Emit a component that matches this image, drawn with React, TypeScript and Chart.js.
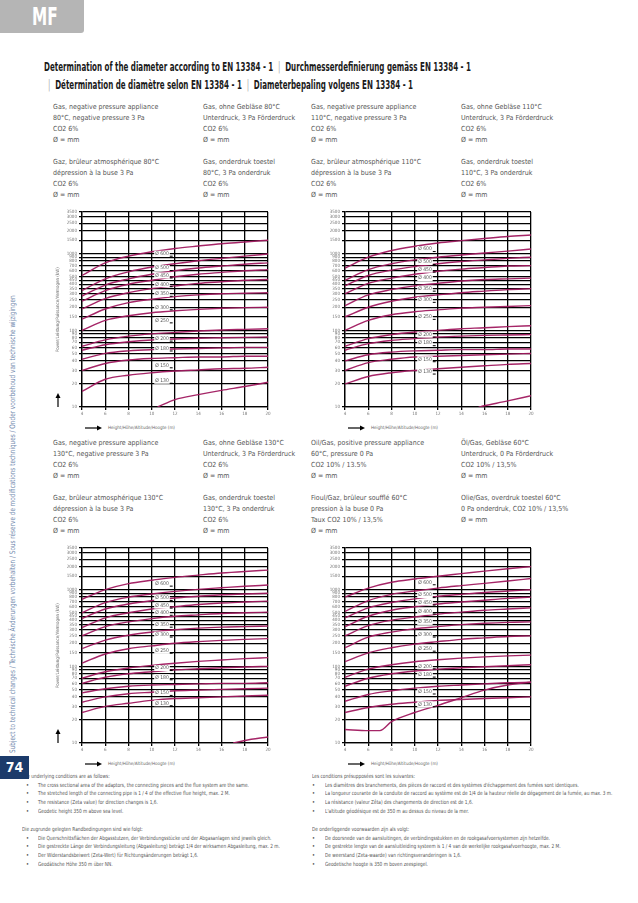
import React, { useEffect, useRef } from 'react';
import { Chart, registerables } from 'chart.js';
Chart.register(...registerables);

const NARROW = "'Liberation Sans Narrow', 'DejaVu Sans Condensed', 'Roboto', sans-serif";

// ---------- shared axis data ----------
const xTicks = [4, 6, 8, 10, 12, 14, 16, 18, 20];
const yTicks = [10, 20, 30, 40, 50, 60, 70, 80, 90, 100, 150, 200, 250, 300, 350, 400, 450, 500, 600, 700, 800, 900, 1000, 1500, 2000, 2500, 3000, 3500];
const diameterNames = ['Ø 600', 'Ø 500', 'Ø 450', 'Ø 400', 'Ø 350', 'Ø 300', 'Ø 250', 'Ø 200', 'Ø 180', 'Ø 150', 'Ø 130'];
const curveX = [4, 6, 8, 10, 12, 14, 16, 18, 20];

// ---------- chart 1: gas 80°C ----------
const chart1Series = [
  [520, 760, 930, 1060, 1170, 1260, 1350, 1420, 1500],
  [330, 470, 580, 670, 740, 810, 870, 930, 990],
  [280, 390, 470, 540, 600, 650, 690, 730, 760],
  [240, 330, 400, 450, 500, 540, 570, 600, 620],
  [190, 260, 310, 350, 380, 410, 430, 450, 460],
  [140, 190, 230, 255, 275, 290, 300, 305, 310],
  [100, 135, 155, 170, 180, 188, 194, 198, 200],
  [62, 75, 84, 90, 94, 98, 101, 103, 105],
  [55, 65, 71, 75, 77, 79, 80, 81, 82],
  [42, 50, 54, 56, 57, 58, 59, 60, 60],
  [30, 37, 41, 43, 44, 45, 45, 46, 46],
  [16, 23, 26, 28, 29.5, 30.5, 31.5, 32, 33],
];
const chart1TailX = [10.5, 12, 14, 16, 18, 20];
const chart1TailY = [10, 12.5, 14.5, 16.5, 18.5, 21];
const chart1LabelY = [1000, 650, 520, 400, 300, 200, 135, 78, 58, 35, 22];

// ---------- chart 2: gas 110°C ----------
const chart2Series = [
  [650, 900, 1100, 1250, 1380, 1480, 1580, 1680, 1750],
  [450, 620, 740, 830, 900, 960, 1020, 1080, 1150],
  [380, 520, 610, 680, 740, 790, 830, 870, 900],
  [300, 410, 480, 540, 590, 630, 660, 690, 700],
  [210, 290, 340, 380, 410, 440, 460, 470, 480],
  [150, 200, 240, 270, 290, 310, 325, 340, 350],
  [100, 135, 160, 175, 185, 195, 200, 205, 210],
  [62, 78, 88, 95, 100, 105, 108, 112, 115],
  [55, 67, 74, 78, 82, 84, 86, 87, 88],
  [40, 48, 52, 54, 55, 56, 56, 57, 57],
  [30, 38, 42, 45, 46, 47, 48, 49, 50],
  [20, 25, 28, 30, 31.5, 33, 34.5, 36, 37],
];
const chart2TailX = [15.5, 16, 18, 20];
const chart2TailY = [10, 10.4, 12, 14];
const chart2LabelY = [1150, 780, 620, 480, 350, 250, 150, 88, 68, 42, 29];

// ---------- chart 3: gas 130°C ----------
const chart3Series = [
  [750, 1000, 1200, 1330, 1450, 1550, 1650, 1730, 1800],
  [500, 680, 800, 880, 950, 1010, 1060, 1110, 1150],
  [420, 560, 650, 720, 780, 820, 860, 880, 900],
  [320, 430, 500, 560, 600, 640, 670, 690, 710],
  [250, 330, 380, 420, 450, 470, 490, 500, 510],
  [170, 220, 255, 280, 300, 315, 325, 330, 335],
  [110, 145, 170, 185, 200, 210, 218, 225, 230],
  [70, 85, 95, 103, 110, 116, 121, 126, 130],
  [60, 72, 80, 85, 90, 93, 96, 98, 100],
  [45, 51, 55, 57, 58, 59, 60, 60, 61],
  [34, 40, 44, 46, 48, 49, 50, 51, 52],
  [25, 30, 33, 36, 38, 39, 40, 41, 42],
];
const chart3TailX = [17, 18, 20];
const chart3TailY = [10, 10.8, 12];
const chart3LabelY = [1200, 780, 620, 500, 350, 260, 160, 95, 72, 45, 33];

// ---------- chart 4: oil/gas 60°C ----------
const chart4Series = [
  [800, 1050, 1250, 1380, 1500, 1620, 1750, 1880, 2000],
  [520, 720, 870, 960, 1050, 1130, 1210, 1300, 1400],
  [430, 580, 680, 760, 820, 870, 920, 960, 1000],
  [330, 450, 540, 600, 650, 690, 730, 770, 800],
  [250, 340, 400, 440, 480, 510, 540, 560, 580],
  [175, 240, 280, 310, 330, 350, 365, 375, 380],
  [115, 150, 175, 195, 210, 225, 235, 245, 250],
  [72, 92, 105, 115, 122, 128, 133, 137, 140],
  [55, 70, 80, 87, 92, 96, 99, 102, 105],
  [35, 43, 48, 52, 55, 57, 59, 61, 62],
  [25, 29, 32, 34, 36, 37, 38, 39, 40],
];
const chart4TailX = [4, 6, 7, 8, 10, 12, 14, 16, 18, 20];
const chart4TailY = [15, 14.5, 14.5, 19, 25, 31, 39, 49, 57, 62];
const chart4LabelY = [1250, 850, 680, 520, 380, 260, 170, 100, 78, 47, 32];

// ---------- texts ----------
const titleLine1a = 'Determination of the diameter according to EN 13384 - 1';
const titleLine1b = 'Durchmesserdefinierung gemäss EN 13384 - 1';
const titleLine2a = 'Détermination de diamètre selon EN 13384 - 1';
const titleLine2b = 'Diameterbepaling volgens EN 13384 - 1';

const row1Col1 = ['Gas, negative pressure appliance', '80°C, negative pressure 3 Pa', 'CO2 6%', 'Ø = mm', 'Gaz, brûleur atmosphérique 80°C', 'dépression à la buse 3 Pa', 'CO2 6%', 'Ø = mm'];
const row1Col2 = ['Gas, ohne Gebläse 80°C', 'Unterdruck, 3 Pa Förderdruck', 'CO2 6%', 'Ø = mm', 'Gas, onderdruk toestel', '80°C, 3 Pa onderdruk', 'CO2 6%', 'Ø = mm'];
const row1Col3 = ['Gas, negative pressure appliance', '110°C, negative pressure 3 Pa', 'CO2 6%', 'Ø = mm', 'Gaz, brûleur atmosphérique 110°C', 'dépression à la buse 3 Pa', 'CO2 6%', 'Ø = mm'];
const row1Col4 = ['Gas, ohne Gebläse 110°C', 'Unterdruck, 3 Pa Förderdruck', 'CO2 6%', 'Ø = mm', 'Gas, onderdruk toestel', '110°C, 3 Pa onderdruk', 'CO2 6%', 'Ø = mm'];
const row2Col1 = ['Gas, negative pressure appliance', '130°C, negative pressure 3 Pa', 'CO2 6%', 'Ø = mm', 'Gaz, brûleur atmosphérique 130°C', 'dépression à la buse 3 Pa', 'CO2 6%', 'Ø = mm'];
const row2Col2 = ['Gas, ohne Gebläse 130°C', 'Unterdruck, 3 Pa Förderdruck', 'CO2 6%', 'Ø = mm', 'Gas, onderdruk toestel', '130°C, 3 Pa onderdruk', 'CO2 6%', 'Ø = mm'];
const row2Col3 = ['Oil/Gas, positive pressure appliance', '60°C, pressure 0 Pa', 'CO2 10% / 13.5%', 'Ø = mm', 'Fioul/Gaz, brûleur soufflé 60°C', 'pression à la buse 0 Pa', 'Taux CO2 10% / 13,5%', 'Ø = mm'];
const row2Col4 = ['Öl/Gas, Gebläse 60°C', 'Unterdruck, 0 Pa Förderdruck', 'CO2 10% / 13,5%', 'Ø = mm', 'Olie/Gas, overdruk toestel 60°C', '0 Pa onderdruk, CO2 10% / 13,5%', 'Ø = mm'];

const notesEnHead = 'The underlying conditions are as follows:';
const notesEn = [
  'The cross sectional area of the adaptors, the connecting pieces and the flue system are the same.',
  'The stretched length of the connecting pipe is 1 / 4 of the effective flue height, max. 2 M.',
  'The resistance (Zeta value) for direction changes is 1,6.',
  'Geodetic height 350 m above sea level.',
];
const notesDeHead = 'Die zugrunde gelegten Randbedingungen sind wie folgt:';
const notesDe = [
  'Die Querschnittsflächen der Abgasstutzen, der Verbindungsstücke und der Abgasanlagen sind jeweils gleich.',
  'Die gestreckte Länge der Verbindungsleitung (Abgasleitung) beträgt 1/4 der wirksamen Abgasleitung, max. 2 m.',
  'Der Widerstandsbeiwert (Zeta-Wert) für Richtungsänderungen beträgt 1,6.',
  'Geodätische Höhe 350 m über NN.',
];
const notesFrHead = 'Les conditions présupposées sont les suivantes:';
const notesFr = [
  "Les diamètres des branchements, des pièces de raccord et des systèmes d'échappement des fumées sont identiques.",
  'La longueur courante de la conduite de raccord au système est de 1/4 de la hauteur réelle de dégagement de la fumée, au max. 3 m.',
  'La résistance (valeur Zêta) des changements de direction est de 1,6.',
  "L'altitude géodésique est de 350 m au dessus du niveau de la mer.",
];
const notesNlHead = 'De onderliggende voorwaarden zijn als volgt:';
const notesNl = [
  'De doorsnede van de aansluitingen, de verbindingsstukken en de rookgasafvoersystemen zijn hetzelfde.',
  'De gestrekte lengte van de aansluitleiding systeem is 1 / 4 van de werkelijke rookgasafvoerhoogte, max. 2 M.',
  'De weerstand (Zeta-waarde) van richtingsveranderingen is 1,6.',
  'Geodetische hoogte is 350 m boven zeespiegel.',
];

const sideText = 'Subject to technical changes / Technische Änderungen vorbehalten / Sous réserve de modifications techniques / Onder voorbehoud van technische wijzigingen';
const xTitle = 'Height/Höhe/Altitude/Hoogte (m)';
const yTitle = 'Power/Leistung/Puissance/Vermogen (kW)';

// ---------- plugin: diameter labels ----------
const diameterLabels = {
  id: 'diameterLabels',
  afterDatasetsDraw(chart: any, _args: any, opts: any) {
    const { ctx } = chart;
    const xs = chart.scales.x;
    const ys = chart.scales.y;
    ctx.save();
    ctx.font = `5px ${NARROW}`;
    ctx.textBaseline = 'middle';
    (opts.values || []).forEach((v: number, i: number) => {
      const text = diameterNames[i];
      const px = xs.getPixelForValue(opts.at);
      const py = ys.getPixelForValue(v);
      const w = ctx.measureText(text).width;
      ctx.fillStyle = '#fff';
      ctx.fillRect(px - 1, py - 3, w + 2, 6);
      ctx.fillStyle = '#555';
      ctx.fillText(text, px, py);
      ctx.strokeStyle = '#000';
      ctx.lineWidth = 1;
      ctx.beginPath();
      ctx.moveTo(px + w + 1, py + 2.5);
      ctx.lineTo(xs.getPixelForValue(opts.lineEnd), py + 2.5);
      ctx.stroke();
    });
    ctx.restore();
  },
};

const CURVE_COLOR = 'rgba(160, 25, 95, 0.95)';

function FlueChart(props: { left: number; top: number; series: number[][]; tailX: number[]; tailY: number[]; labelY: number[] }) {
  const ref = useRef<HTMLCanvasElement | null>(null);
  const W = 221;
  const H = 212;
  useEffect(() => {
    if (!ref.current) return;
    const datasets: any[] = props.series.map((s) => ({
      data: s.map((v, i) => ({ x: curveX[i], y: v })),
      borderColor: CURVE_COLOR,
      borderWidth: 1.4,
      pointRadius: 0,
      cubicInterpolationMode: 'monotone',
      fill: false,
    }));
    datasets.push({
      data: props.tailY.map((v, i) => ({ x: props.tailX[i], y: v })),
      borderColor: CURVE_COLOR,
      borderWidth: 1.4,
      pointRadius: 0,
      cubicInterpolationMode: 'monotone',
      fill: false,
    });
    const chart = new Chart(ref.current, {
      type: 'line',
      data: { datasets },
      plugins: [diameterLabels as any],
      options: {
        animation: false,
        responsive: false,
        devicePixelRatio: 1,
        layout: { padding: { top: 7, right: 5, left: 0, bottom: 0 } },
        plugins: {
          legend: { display: false },
          tooltip: { enabled: false },
          diameterLabels: { values: props.labelY, at: 10.3, lineEnd: 11.8 },
        } as any,
        scales: {
          x: {
            type: 'linear',
            min: 4,
            max: 20,
            afterBuildTicks: (axis: any) => { axis.ticks = xTicks.map((v) => ({ value: v })); },
            afterFit: (axis: any) => { axis.height = 10; },
            ticks: { font: { family: NARROW, size: 4.5 }, color: '#777', padding: 1, maxRotation: 0, autoSkip: false },
            grid: { color: '#000', lineWidth: 1.3, tickLength: 3, drawTicks: true },
            border: { color: '#000', width: 1.3 },
          },
          y: {
            type: 'logarithmic',
            min: 10,
            max: 3500,
            afterBuildTicks: (axis: any) => { axis.ticks = yTicks.map((v) => ({ value: v })); },
            afterFit: (axis: any) => { axis.width = 30; },
            ticks: { font: { family: NARROW, size: 4.5 }, color: '#777', padding: 2, autoSkip: false, callback: (v: any) => String(v) },
            grid: { color: '#000', lineWidth: 1.3, tickLength: 3, drawTicks: true },
            border: { color: '#000', width: 1.3 },
          },
        },
      },
    });
    return () => chart.destroy();
  }, []);
  return (
    <canvas
      ref={ref}
      width={W}
      height={H}
      style={{ position: 'absolute', left: props.left, top: props.top, width: W, height: H }}
    />
  );
}

function Lines(props: { x: number; centers: number[]; lines: string[]; size: number; color?: string; sx?: number }) {
  return (
    <>
      {props.lines.map((t, i) => (
        <div
          key={i}
          style={{
            position: 'absolute',
            left: props.x,
            top: props.centers[i] - 5,
            height: 10,
            lineHeight: '10px',
            fontSize: props.size,
            color: props.color || '#555',
            whiteSpace: 'nowrap',
            transformOrigin: 'left center',
            transform: props.sx ? `scaleX(${props.sx})` : undefined,
          }}
        >
          {t}
        </div>
      ))}
    </>
  );
}

function Notes(props: { headX: number; bulletX: number; textX: number; head: string; items: string[]; top: number }) {
  const centers = [props.top, props.top + 8.7, props.top + 17.4, props.top + 26.1, props.top + 34.8];
  const SX = 0.85;
  return (
    <>
      <Lines x={props.headX} centers={[centers[0]]} lines={[props.head]} size={5.6} sx={SX} />
      {props.items.map((t, i) => (
        <React.Fragment key={i}>
          <Lines x={props.bulletX} centers={[centers[i + 1]]} lines={['•']} size={5.6} />
          <Lines x={props.textX} centers={[centers[i + 1]]} lines={[t]} size={5.6} sx={SX} />
        </React.Fragment>
      ))}
    </>
  );
}

function XTitle(props: { x: number; y: number }) {
  return (
    <>
      <svg style={{ position: 'absolute', left: props.x, top: props.y - 3 }} width={18} height={6}>
        <line x1={0} y1={3} x2={13} y2={3} stroke="#000" strokeWidth={1.2} />
        <polygon points="12,0.5 17,3 12,5.5" fill="#000" />
      </svg>
      <div style={{ position: 'absolute', left: props.x + 23, top: props.y - 4, fontSize: 4.5, lineHeight: '8px', color: '#666', whiteSpace: 'nowrap' }}>{xTitle}</div>
    </>
  );
}

function YTitle(props: { x: number; centerY: number; arrowY: number }) {
  return (
    <>
      <div
        style={{
          position: 'absolute',
          left: props.x - 3,
          top: props.centerY + 40,
          width: 80,
          height: 6,
          lineHeight: '6px',
          fontSize: 4.5,
          color: '#666',
          whiteSpace: 'nowrap',
          textAlign: 'center',
          transformOrigin: 'left top',
          transform: 'rotate(-90deg)',
        }}
      >
        {yTitle}
      </div>
      <svg style={{ position: 'absolute', left: props.x - 3, top: props.arrowY }} width={6} height={14}>
        <line x1={3} y1={14} x2={3} y2={4} stroke="#000" strokeWidth={1.2} />
        <polygon points="0.5,5 3,0 5.5,5" fill="#000" />
      </svg>
    </>
  );
}

const titleStyle: React.CSSProperties = {
  position: 'absolute',
  fontSize: 12,
  lineHeight: '14px',
  fontWeight: 700,
  color: '#1a1a1a',
  whiteSpace: 'nowrap',
  transformOrigin: 'left center',
  transform: 'scaleX(0.66)',
};
const sep: React.CSSProperties = { color: '#aaa', fontWeight: 400 };

export default function App() {
  const row1 = [107, 118, 129, 140, 162, 173, 184, 195];
  const row2 = row1.map((v) => v + 336);
  return (
    <div
      style={{
        position: 'absolute',
        left: 0,
        top: 0,
        width: 638,
        height: 903,
        overflow: 'hidden',
        background: '#fff',
        fontFamily: NARROW,
      }}
    >
      {/* MF tab */}
      <div style={{ position: 'absolute', left: 0, top: 0, width: 84, height: 33, background: '#b5b5b5', borderBottomRightRadius: 3 }} />
      <div style={{ position: 'absolute', left: 32, top: 3, fontSize: 25, lineHeight: '28px', fontWeight: 700, color: '#fff', transformOrigin: 'left center', transform: 'scaleX(0.68)' }}>MF</div>

      {/* Title */}
      <div style={{ ...titleStyle, left: 44, top: 60 }}>
        {titleLine1a} <span style={sep}>&nbsp;|&nbsp;</span> {titleLine1b}
      </div>
      <div style={{ ...titleStyle, left: 48, top: 78 }}>
        <span style={sep}>|&nbsp;</span> {titleLine2a} <span style={sep}>&nbsp;|&nbsp;</span> {titleLine2b}
      </div>

      {/* Row 1 texts */}
      <Lines x={53} centers={row1} lines={row1Col1} size={7} />
      <Lines x={203} centers={row1} lines={row1Col2} size={7} />
      <Lines x={311} centers={row1} lines={row1Col3} size={7} />
      <Lines x={461} centers={row1} lines={row1Col4} size={7} />

      {/* Row 2 texts */}
      <Lines x={53} centers={row2} lines={row2Col1} size={7} />
      <Lines x={203} centers={row2} lines={row2Col2} size={7} />
      <Lines x={311} centers={row2} lines={row2Col3} size={7} />
      <Lines x={461} centers={row2} lines={row2Col4} size={7} />

      {/* Charts */}
      <FlueChart left={52} top={205} series={chart1Series} tailX={chart1TailX} tailY={chart1TailY} labelY={chart1LabelY} />
      <FlueChart left={315} top={205} series={chart2Series} tailX={chart2TailX} tailY={chart2TailY} labelY={chart2LabelY} />
      <FlueChart left={52} top={541} series={chart3Series} tailX={chart3TailX} tailY={chart3TailY} labelY={chart3LabelY} />
      <FlueChart left={315} top={541} series={chart4Series} tailX={chart4TailX} tailY={chart4TailY} labelY={chart4LabelY} />

      {/* axis titles */}
      <YTitle x={58} centerY={312} arrowY={393} />
      <YTitle x={58} centerY={648} arrowY={729} />
      <XTitle x={85} y={428} />
      <XTitle x={348} y={428} />
      <XTitle x={85} y={764} />
      <XTitle x={348} y={764} />

      {/* Bottom notes */}
      <Notes headX={22} bulletX={26} textX={38} head={notesEnHead} items={notesEn} top={776} />
      <Notes headX={22} bulletX={26} textX={38} head={notesDeHead} items={notesDe} top={829} />
      <Notes headX={312} bulletX={312} textX={325} head={notesFrHead} items={notesFr} top={776} />
      <Notes headX={312} bulletX={312} textX={325} head={notesNlHead} items={notesNl} top={829} />

      {/* Side vertical text */}
      <div
        style={{
          position: 'absolute',
          left: 8,
          top: 753,
          height: 9,
          lineHeight: '9px',
          fontSize: 7.6,
          color: '#6f87ad',
          whiteSpace: 'nowrap',
          transformOrigin: 'left top',
          transform: 'rotate(-90deg) scaleX(0.84)',
        }}
      >
        {sideText}
      </div>

      {/* Page number */}
      <div style={{ position: 'absolute', left: 0, top: 756, width: 29, height: 23, background: '#1c3b6b' }} />
      <div style={{ position: 'absolute', left: 0, top: 756, width: 29, height: 23, lineHeight: '23px', textAlign: 'center', fontSize: 14, fontWeight: 700, color: '#fff' }}>74</div>
    </div>
  );
}
